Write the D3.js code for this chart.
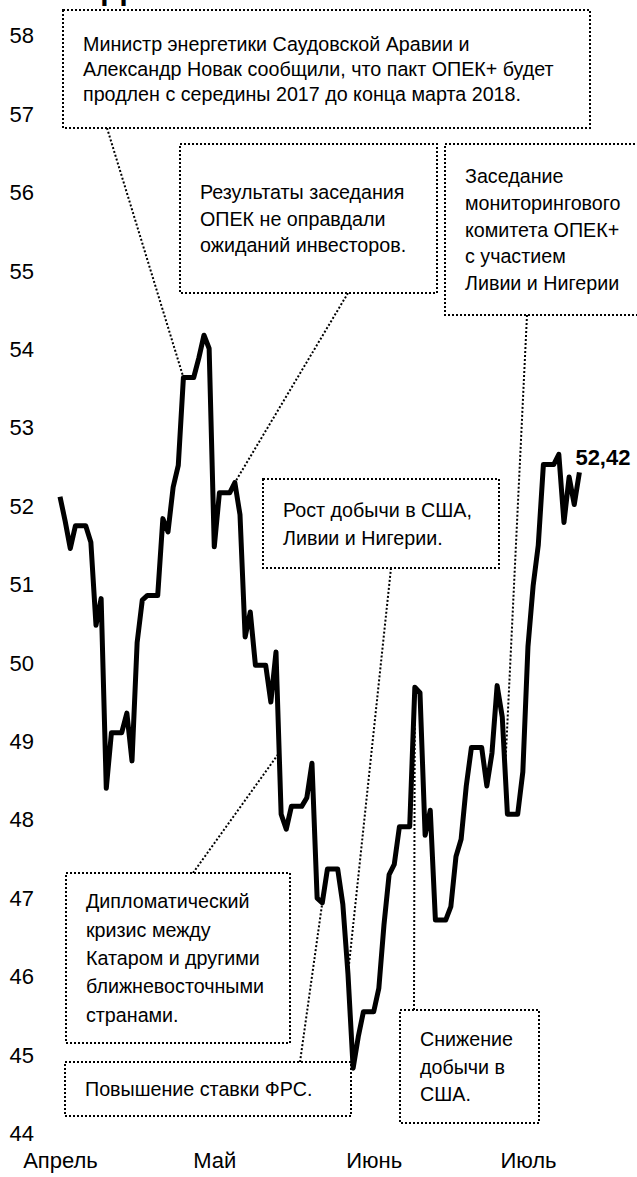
<!DOCTYPE html>
<html>
<head>
<meta charset="utf-8">
<script src="https://cdn.jsdelivr.net/npm/d3@7"></script>
<style>
body { margin: 0; background: #fff; }
svg { display: block; font-family: "Liberation Sans", Arial, sans-serif; }
</style>
</head>
<body>
<div id="chart"></div>
<script>
// daily Brent close, weekends carry Friday's value (as drawn in the source)
var firstDay = '2017-04-25';
var prices = [
	52.11, 51.80, 51.45, 51.74, 51.74, 51.74, 51.53, 50.47, 50.81, 48.39,
	49.10, 49.10, 49.10, 49.35, 48.74, 50.25, 50.79, 50.85, 50.85, 50.85,
	51.83, 51.66, 52.23, 52.51, 53.63, 53.63, 53.63, 53.88, 54.17, 54.00,
	51.47, 52.16, 52.16, 52.16, 52.29, 51.88, 50.32, 50.64, 49.96, 49.96,
	49.96, 49.49, 50.13, 48.06, 47.87, 48.16, 48.16, 48.16, 48.27, 48.71,
	46.99, 46.93, 47.36, 47.36, 47.36, 46.91, 46.02, 44.82, 45.22, 45.54,
	45.54, 45.54, 45.84, 46.65, 47.29, 47.42, 47.90, 47.90, 47.90, 49.68,
	49.61, 47.79, 48.11, 46.71, 46.71, 46.71, 46.88, 47.52, 47.74, 48.42,
	48.91, 48.91, 48.91, 48.42, 48.84, 49.70, 49.30, 48.06, 48.06, 48.06,
	48.60, 50.20, 50.97, 51.49, 52.52, 52.52, 52.52, 52.65, 51.78, 52.36,
	52.01, 52.42
];
var monthTicks = ['2017-04-25', '2017-05-25', '2017-06-25', '2017-07-25'];
var monthLabels = ['Апрель', 'Май', 'Июнь', 'Июль'];
var yTicks = [44, 45, 46, 47, 48, 49, 50, 51, 52, 53, 54, 55, 56, 57, 58];
var lastLabel = '52,42';
var titleText = 'Д'; // only the bottom of the title shows above the plot

var noteTexts = [
	['Министр энергетики Саудовской Аравии и', 'Александр Новак сообщили, что пакт ОПЕК+ будет', 'продлен с середины 2017 до конца марта 2018.'],
	['Результаты заседания', 'ОПЕК не оправдали', 'ожиданий инвесторов.'],
	['Заседание', 'мониторингового', 'комитета ОПЕК+', 'с участием', 'Ливии и Нигерии'],
	['Рост добычи в США,', 'Ливии и Нигерии.'],
	['Дипломатический', 'кризис между', 'Катаром и другими', 'ближневосточными', 'странами.'],
	['Повышение ставки ФРС.'],
	['Снижение', 'добычи в', 'США.']
];
// the point on the line each note refers to
var noteDates = ['2017-05-19', '2017-05-29', '2017-07-20T16:00', '2017-06-20', '2017-06-06T14:00', '2017-06-15', '2017-07-03'];
var noteValues = [53.63, 52.29, 48.77, 46.02, 48.84, 46.93, 49.68];

// box geometry [x0, y0, x1, y1, lineHeight, leaderX, leaderY]
var boxes = [
	[63, 10, 590, 128, 25.3, 107, 128],
	[180, 144, 437, 293, 26.5, 348, 293],
	[445, 144, 642, 315, 26.7, 527, 315],
	[263, 479, 499, 568, 28, 391, 568],
	[66, 873, 290, 1043, 28.3, 193, 873],
	[65, 1062, 351, 1116, 27, 300, 1062],
	[400, 1010, 539, 1123, 27.5, 414, 1010]
];

var width = 637, height = 1177;
var parse = d3.utcParse('%Y-%m-%d');
var parseT = s => s.length > 10 ? d3.utcParse('%Y-%m-%dT%H:%M')(s) : parse(s);

var data = prices.map((v, i) => ({ date: d3.utcDay.offset(parse(firstDay), i), value: v }));

var svg = d3.select('#chart').append('svg')
	.attr('width', width)
	.attr('height', height);

svg.append('rect').attr('width', width).attr('height', height).attr('fill', '#fff');

svg.append('text')
	.attr('x', 102)
	.attr('y', -1)
	.attr('font-size', 34)
	.attr('font-weight', 'bold')
	.attr('fill', '#000')
	.text(titleText);

var x = d3.scaleUtc()
	.domain([data[0].date, data[data.length - 1].date])
	.range([60, 579.4]);
var y = d3.scaleLinear().domain([44, 58]).range([1132.5, 34.9]);

var yAxis = svg.append('g')
	.attr('transform', 'translate(34,0)')
	.call(d3.axisLeft(y).tickValues(yTicks).tickSize(0).tickPadding(0).tickFormat(d3.format('d')));
yAxis.select('.domain').remove();
yAxis.selectAll('text')
	.attr('font-size', 22)
	.attr('font-family', '"Liberation Sans", Arial, sans-serif')
	.attr('dy', '0.36em')
	.attr('fill', '#000');

var xAxis = svg.append('g')
	.attr('transform', 'translate(0,1152)')
	.call(d3.axisBottom(x).tickValues(monthTicks.map(parse)).tickSize(0).tickPadding(0)
		.tickFormat((d, i) => monthLabels[i]));
xAxis.select('.domain').remove();
xAxis.selectAll('text')
	.attr('font-size', 22)
	.attr('font-family', '"Liberation Sans", Arial, sans-serif')
	.attr('fill', '#000');

// notes: dotted boxes and leaders
var notes = svg.append('g');
noteTexts.forEach((lines, i) => {
	var b = boxes[i];
	var ax = x(parseT(noteDates[i])), ay = y(noteValues[i]);

	notes.append('line')
		.attr('x1', b[5]).attr('y1', b[6])
		.attr('x2', ax).attr('y2', ay)
		.attr('stroke', '#000')
		.attr('stroke-width', 2)
		.attr('stroke-dasharray', '2,2');

	notes.append('rect')
		.attr('x', b[0]).attr('y', b[1])
		.attr('width', b[2] - b[0]).attr('height', b[3] - b[1])
		.attr('fill', '#fff')
		.attr('stroke', '#000')
		.attr('stroke-width', 2)
		.attr('stroke-dasharray', '2,2');

	var cy = (b[1] + b[3]) / 2;
	var top = cy - (lines.length - 1) * b[4] / 2;
	var t = notes.append('text')
		.attr('font-size', 19.7)
		.attr('fill', '#000');
	lines.forEach((s, j) => {
		t.append('tspan')
			.attr('x', b[0] + 20)
			.attr('y', top + j * b[4])
			.attr('dy', '0.36em')
			.text(s);
	});
});

var line = d3.line().x(d => x(d.date)).y(d => y(d.value));

svg.append('path')
	.datum(data)
	.attr('fill', 'none')
	.attr('stroke', '#000')
	.attr('stroke-width', 5)
	.attr('stroke-linejoin', 'round')
	.attr('d', line);

var last = data[data.length - 1];
svg.append('text')
	.attr('x', x(last.date) - 4)
	.attr('y', y(last.value) - 7)
	.attr('font-size', 22)
	.attr('font-weight', 'bold')
	.attr('fill', '#000')
	.text(lastLabel);
</script>
</body>
</html>
